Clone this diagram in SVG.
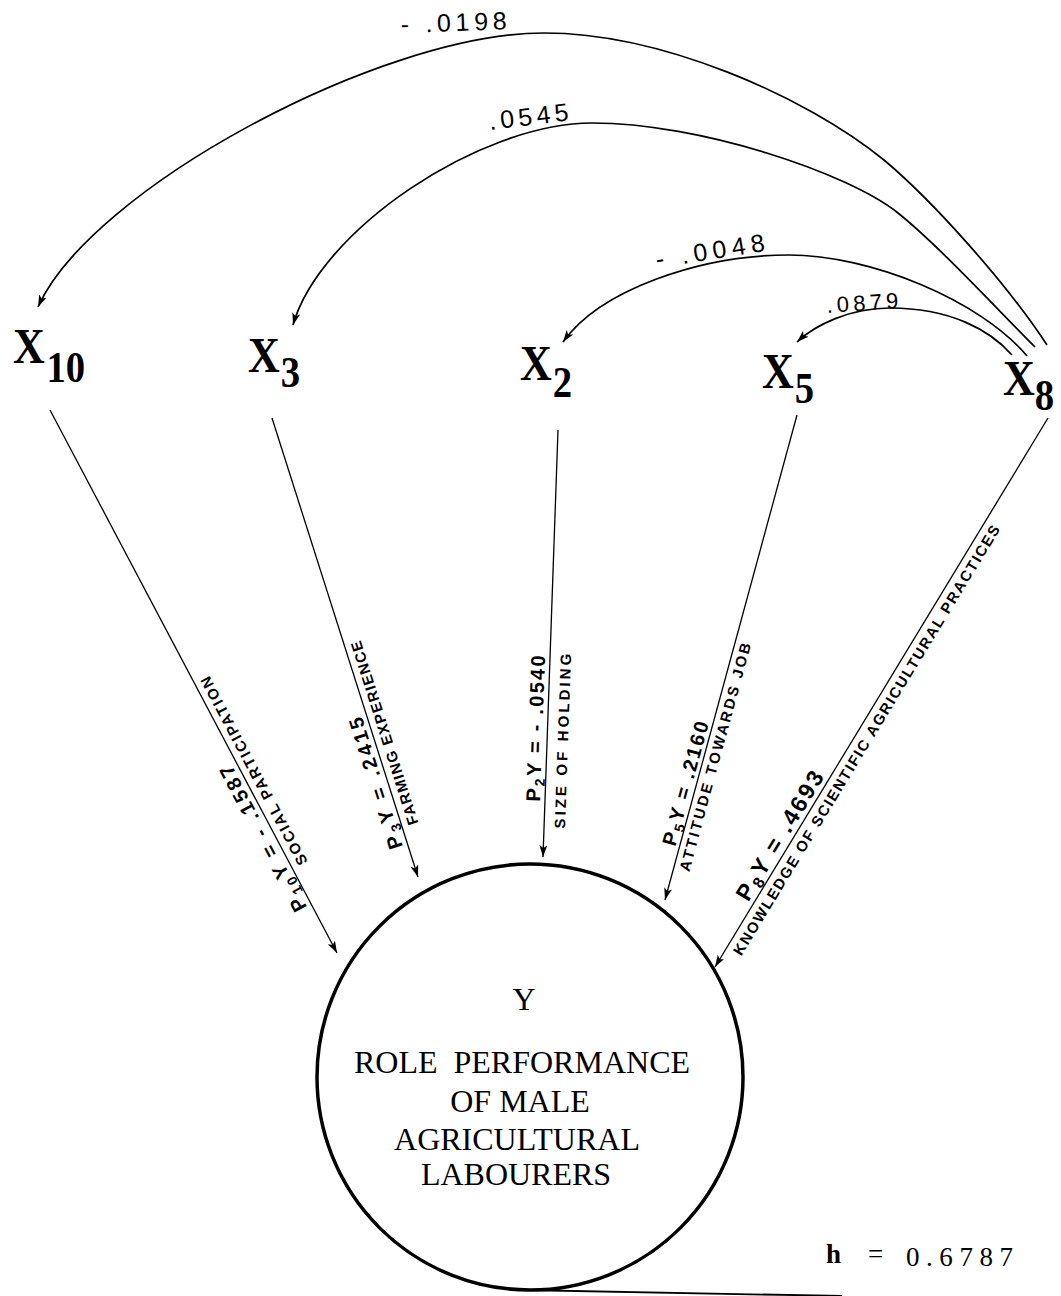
<svg xmlns="http://www.w3.org/2000/svg" width="1061" height="1296" viewBox="0 0 1061 1296">
  <defs>
    <marker id="ah" viewBox="0 0 12 8" refX="12" refY="4" markerWidth="12" markerHeight="8" markerUnits="userSpaceOnUse" orient="auto">
      <path d="M0,0 L12,4 L0,8 L3,4 Z" fill="#000"/>
    </marker>
    <style>
      .node { font-family: "Liberation Serif", "Times New Roman", serif; font-weight: bold; font-size: 50px; fill: #000; }
      .nsub { font-size: 44px; }
      .yt { font-family: "Liberation Serif", "Times New Roman", serif; font-size: 32px; fill: #000; text-anchor: middle; }
      .conn { fill: none; stroke: #000; stroke-width: 1.3; }
      .arc { fill: none; stroke: #000; stroke-width: 1.7; }
      .num { font-family: "Liberation Sans", Arial, sans-serif; font-size: 20px; font-weight: bold; fill: #000; }
      .sub { font-size: 14px; }
      .cap { font-family: "Liberation Sans", Arial, sans-serif; font-size: 15px; font-weight: bold; fill: #000; }
      .cor { font-family: "Liberation Sans", Arial, sans-serif; font-size: 25px; fill: #000; }
      .h { font-family: "Liberation Serif", "Times New Roman", serif; font-size: 27px; fill: #000; }
    </style>
  </defs>

  <!-- correlation arcs from X8 and path connectors into Y -->
  <g id="connectors">
    <path class="arc" d="M1047,345 C1007,284 934,202 884,160 C804,95 660,33 544,33 C380,33 90,190 38,307" marker-end="url(#ah)"/>
    <path class="arc" d="M1035,347 C995,307 938,245 898,213 C848,173 700,123 592,123 C480,123 320,230 293,325" marker-end="url(#ah)"/>
    <path class="arc" d="M1027,356 C980,300 870,255 789,255 C700,255 600,290 563,342" marker-end="url(#ah)"/>
    <path class="arc" d="M1012,355 C990,330 950,308 890,308 C850,308 815,325 797,342" marker-end="url(#ah)"/>

    <path class="conn" d="M50,410 L337,953" marker-end="url(#ah)"/>
    <path class="conn" d="M272,418 L418,877" marker-end="url(#ah)"/>
    <path class="conn" d="M558,430 L543,857" marker-end="url(#ah)"/>
    <path class="conn" d="M797,415 L665,900" marker-end="url(#ah)"/>
    <path class="conn" d="M1048,418 L715,967" marker-end="url(#ah)"/>

    <!-- arc coefficients -->
    <text class="cor" x="401" y="33" textLength="106" lengthAdjust="spacing" transform="rotate(-2 401 33)">- .0198</text>
    <text class="cor" x="490" y="130" textLength="80" lengthAdjust="spacing" transform="rotate(-7 490 130)">.0545</text>
    <text class="cor" x="657" y="268" textLength="110" lengthAdjust="spacing" transform="rotate(-9 657 268)">- .0048</text>
    <text class="cor" x="827" y="313" textLength="72" lengthAdjust="spacing" transform="rotate(-4 827 313)" style="font-size:22px">.0879</text>

    <!-- path coefficient labels, written along each connector -->
    <g transform="translate(311.6 905) rotate(-117.9)">
      <text class="num" x="0" y="-5" letter-spacing="2.75">P<tspan class="sub" dy="4">10</tspan><tspan dy="-4">Y = - .1587</tspan></text>
      <text class="cap" x="40" y="17" textLength="211" lengthAdjust="spacing">SOCIAL PARTICIPATION</text>
    </g>
    <g transform="translate(407.8 845) rotate(-107.64)">
      <text class="num" x="0" y="-5" letter-spacing="3">P<tspan class="sub" dy="4">3</tspan><tspan dy="-4">Y = .2415</tspan></text>
      <text class="cap" x="17.8" y="17" textLength="192" lengthAdjust="spacing">FARMING EXPERIENCE</text>
    </g>
    <g transform="translate(544.9 802) rotate(-87.99)">
      <text class="num" x="0" y="-5" letter-spacing="2.25">P<tspan class="sub" dy="4">2</tspan><tspan dy="-4">Y = - .0540</tspan></text>
      <text class="cap" x="-26" y="21" textLength="175" lengthAdjust="spacing">SIZE OF HOLDING</text>
    </g>
    <g transform="translate(679.2 848) rotate(-74.78)">
      <text class="num" x="0" y="-4" letter-spacing="2.1">P<tspan class="sub" dy="4">5</tspan><tspan dy="-4">Y = .2160</tspan></text>
      <text class="cap" x="-20.7" y="16" textLength="236" lengthAdjust="spacing">ATTITUDE TOWARDS JOB</text>
    </g>
    <g transform="translate(752.6 905) rotate(-58.76)">
      <text class="num" x="0" y="-5" letter-spacing="2.4" style="font-size:23px">P<tspan class="sub" dy="4" style="font-size:16px">8</tspan><tspan dy="-4">Y = .4693</tspan></text>
      <text class="cap" x="-50" y="17" textLength="500" lengthAdjust="spacing">KNOWLEDGE OF SCIENTIFIC AGRICULTURAL PRACTICES</text>
    </g>
  </g>

  <!-- variable nodes: condensed bold serif with subscript -->
  <g id="node-x10">
    <text class="node" transform="translate(13 363) scale(0.88 1)">X<tspan class="nsub" dx="2" dy="19">10</tspan></text>
  </g>
  <g id="node-x3">
    <text class="node" transform="translate(248 372) scale(0.88 1)">X<tspan class="nsub" dx="1" dy="15">3</tspan></text>
  </g>
  <g id="node-x2">
    <text class="node" transform="translate(520 380) scale(0.88 1)">X<tspan class="nsub" dx="1" dy="17">2</tspan></text>
  </g>
  <g id="node-x5">
    <text class="node" transform="translate(762 388) scale(0.88 1)">X<tspan class="nsub" dx="1" dy="15">5</tspan></text>
  </g>
  <g id="node-x8">
    <text class="node" transform="translate(1003 395) scale(0.88 1)">X<tspan class="nsub" dx="0" dy="15">8</tspan></text>
  </g>

  <g id="node-y">
    <circle cx="530" cy="1077" r="213" fill="none" stroke="#000" stroke-width="3.5"/>
    <text class="yt" x="524" y="1010">Y</text>
    <text class="yt" x="522" y="1073" word-spacing="8">ROLE PERFORMANCE</text>
    <text class="yt" x="520" y="1112">OF MALE</text>
    <text class="yt" x="517" y="1150">AGRICULTURAL</text>
    <text class="yt" x="516" y="1185">LABOURERS</text>
    <path d="M522,1290 L842,1296" fill="none" stroke="#000" stroke-width="1.8"/>
  </g>

  <g id="residual">
    <text class="h" x="826" y="1263" font-weight="bold">h</text>
    <text class="h" x="868" y="1263">=</text>
    <text class="h" x="906" y="1266" textLength="107" lengthAdjust="spacing">0.6787</text>
  </g>
</svg>
